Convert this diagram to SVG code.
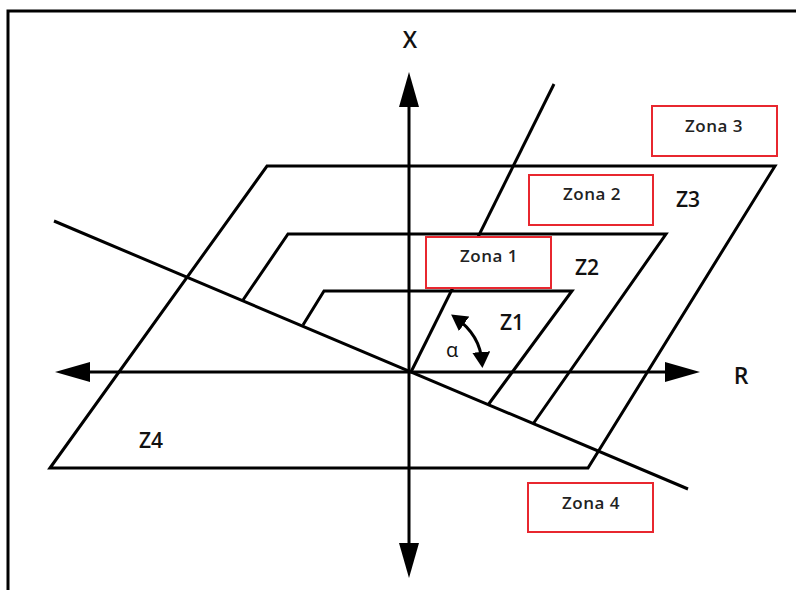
<svg xmlns="http://www.w3.org/2000/svg" width="796" height="590" viewBox="0 0 796 590">
  <style>
    .ln { fill: none; stroke: #000; stroke-width: 3; stroke-linejoin: miter; }
    .box { fill: #fff; stroke: #e8272f; stroke-width: 2; }
    .bt { font-family: "Open Sans", "Liberation Sans", sans-serif; font-size: 17px; font-weight: 600; fill: #222; text-anchor: middle; letter-spacing: 0.5px; }
    .zt { font-family: "Open Sans", "Liberation Sans", sans-serif; font-size: 21px; font-weight: 600; fill: #111; text-anchor: middle; }
    .ax { font-family: "Open Sans", "Liberation Sans", sans-serif; font-size: 23px; font-weight: 600; fill: #111; text-anchor: middle; }
  </style>
  <defs>
    <marker id="big" markerUnits="userSpaceOnUse" markerWidth="35" markerHeight="20" refX="27" refY="10" orient="auto-start-reverse">
      <path d="M0,0 L35,10 L0,20 Z" fill="#000"/>
    </marker>
    <marker id="small" markerUnits="userSpaceOnUse" markerWidth="16" markerHeight="18" refX="10" refY="9" orient="auto-start-reverse">
      <path d="M0,0 L16,9 L0,18 Z" fill="#000"/>
    </marker>
  </defs>
  <rect width="796" height="590" fill="#fff"/>
  <path class="ln" d="M8 590 L8 11 L796 11"/>

  <g id="connectors">
    <path class="ln" d="M50 468 L267 166 L775 166 L588 468 Z"/>
    <path class="ln" d="M243 300 L288 234 L666 234 L533 424"/>
    <path class="ln" d="M303 325 L324 291 L572 291 L488 405"/>
    <line class="ln" x1="54" y1="221" x2="688" y2="489"/>
    <line class="ln" x1="411" y1="372" x2="554" y2="84"/>
    <line class="ln" x1="409" y1="80" x2="409" y2="570" marker-start="url(#big)" marker-end="url(#big)"/>
    <line class="ln" x1="63" y1="372" x2="692" y2="372" marker-start="url(#big)" marker-end="url(#big)"/>
    <path class="ln" d="M456 318 Q480 335 482 362" marker-start="url(#small)" marker-end="url(#small)"/>
  </g>

  <g id="zona1">
    <rect class="box" x="426" y="237" width="125" height="51"/>
    <text class="bt" x="489" y="262">Zona 1</text>
  </g>
  <g id="zona2">
    <rect class="box" x="529" y="175" width="124" height="50"/>
    <text class="bt" x="592" y="200">Zona 2</text>
  </g>
  <g id="zona3">
    <rect class="box" x="652" y="106" width="125" height="50"/>
    <text class="bt" x="714" y="132">Zona 3</text>
  </g>
  <g id="zona4">
    <rect class="box" x="528" y="483" width="125" height="49"/>
    <text class="bt" x="591" y="509">Zona 4</text>
  </g>

  <g id="labels">
    <text class="ax" x="410" y="48">X</text>
    <text class="ax" x="741" y="384">R</text>
    <text class="zt" x="512" y="330">Z1</text>
    <text class="zt" x="587" y="275">Z2</text>
    <text class="zt" x="688" y="207">Z3</text>
    <text class="zt" x="151" y="448">Z4</text>
    <text x="452" y="357" font-family="'Open Sans', 'DejaVu Sans', sans-serif" font-size="20" fill="#111" text-anchor="middle">α</text>
  </g>
</svg>
